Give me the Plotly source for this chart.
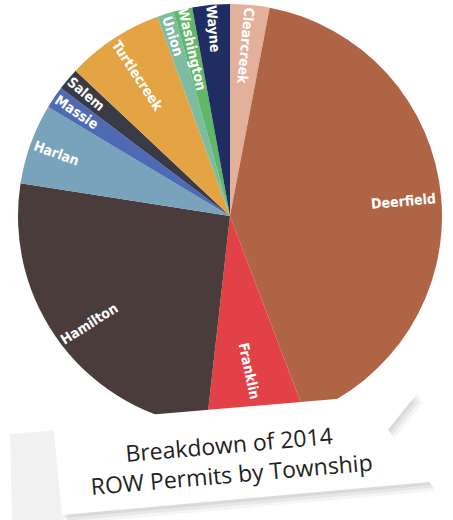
import math
import plotly.graph_objects as go

townships = ["Clearcreek", "Deerfield", "Franklin", "Hamilton", "Harlan", "Massie",
             "Salem", "Turtlecreek", "Union", "Washington", "Wayne"]
permits = [21, 289, 53, 180, 43, 12, 12, 52, 9, 10, 20]
colors = ["#e3b09b", "#b06446", "#e24247", "#4a3c3b", "#78a3bb", "#4f6ab4",
          "#383a46", "#e5a444", "#7dbba2", "#5fb865", "#1f2d63"]

title_lines = ["Breakdown of 2014", "ROW Permits by Township"]

W, H = 453, 520
cx, cy, r = 230, 216, 212          # pie centre / radius in pixels


def px(x, y):
    return x / W, 1 - y / H


def path(points):
    pts = [px(x, y) for x, y in points]
    return "M " + " L ".join(f"{a:.4f},{b:.4f}" for a, b in pts) + " Z"


fig = go.Figure()
fig.add_trace(go.Pie(
    labels=townships, values=permits,
    marker=dict(colors=colors, line=dict(width=0)),
    sort=False, direction="clockwise", rotation=0,
    textinfo="none", hoverinfo="label+value+percent",
    showlegend=False,
    domain=dict(x=[(cx - r) / W, (cx + r) / W], y=[(H - cy - r) / H, (H - cy + r) / H]),
))

# slice labels, placed along each slice's bisector near the rim
total = sum(permits)
label_font = dict(family="DejaVu Sans Condensed, Roboto, sans-serif", size=14, color="white")
inset = {"Franklin": 22}
angle_tweak = {"Hamilton": 5, "Franklin": -5}
cum = 0
for name, v in zip(townships, permits):
    a = (cum + v / 2) / total * 360
    cum += v
    rc = 206 - 3.5 * len(name) - inset.get(name, 0)
    x = cx + rc * math.sin(math.radians(a))
    y = cy - rc * math.cos(math.radians(a))
    t = (a + 90) % 360
    if 100 < t < 280:
        t -= 180
    if t > 180:
        t -= 360
    t += angle_tweak.get(name, 0)
    fx, fy = px(x, y)
    fig.add_annotation(text=f"<b>{name}</b>", x=fx, y=fy, xref="paper", yref="paper",
                       xanchor="center", yanchor="middle", showarrow=False,
                       textangle=t, font=label_font)

# ribbon banner (decorative)
fig.add_shape(type="path", xref="paper", yref="paper", layer="above",
              path=path([(10, 434), (60, 430), (64, 520), (12, 520)]),
              fillcolor="rgba(0,0,0,0.05)", line=dict(width=0))
fig.add_shape(type="path", xref="paper", yref="paper", layer="above",
              path=path([(13, 437), (58, 433), (62, 520), (15, 520)]),
              fillcolor="#f1f1f1", line=dict(width=0))
for dx, dy, alpha in [(6, 9, 0.04), (4, 6, 0.05), (2, 3, 0.06)]:
    fig.add_shape(type="path", xref="paper", yref="paper", layer="above",
                  path=path([(53 + dx, 423 + dy), (418 + dx, 392 + dy), (388 + dx, 430 + dy),
                             (430 + dx, 482 + dy), (62 + dx, 515 + dy)]),
                  fillcolor=f"rgba(0,0,0,{alpha})", line=dict(width=0))
fig.add_shape(type="path", xref="paper", yref="paper", layer="above",
              path=path([(53, 423), (418, 392), (388, 430), (430, 482), (62, 515)]),
              fillcolor="white", line=dict(width=0))

tx, ty = px(230, 459)
fig.add_annotation(
    text="<br>".join(title_lines), xref="paper", yref="paper",
    x=tx, y=ty, xanchor="center", yanchor="middle", showarrow=False, textangle=-5,
    font=dict(family="Open Sans, Lato, sans-serif", size=23, color="#231f20"),
    align="center",
)

fig.update_layout(
    width=W, height=H, margin=dict(l=0, r=0, t=0, b=0),
    paper_bgcolor="white", plot_bgcolor="white",
)
fig.write_html("out.html", config={"displayModeBar": False},
               post_script="document.body.style.margin='0';")
